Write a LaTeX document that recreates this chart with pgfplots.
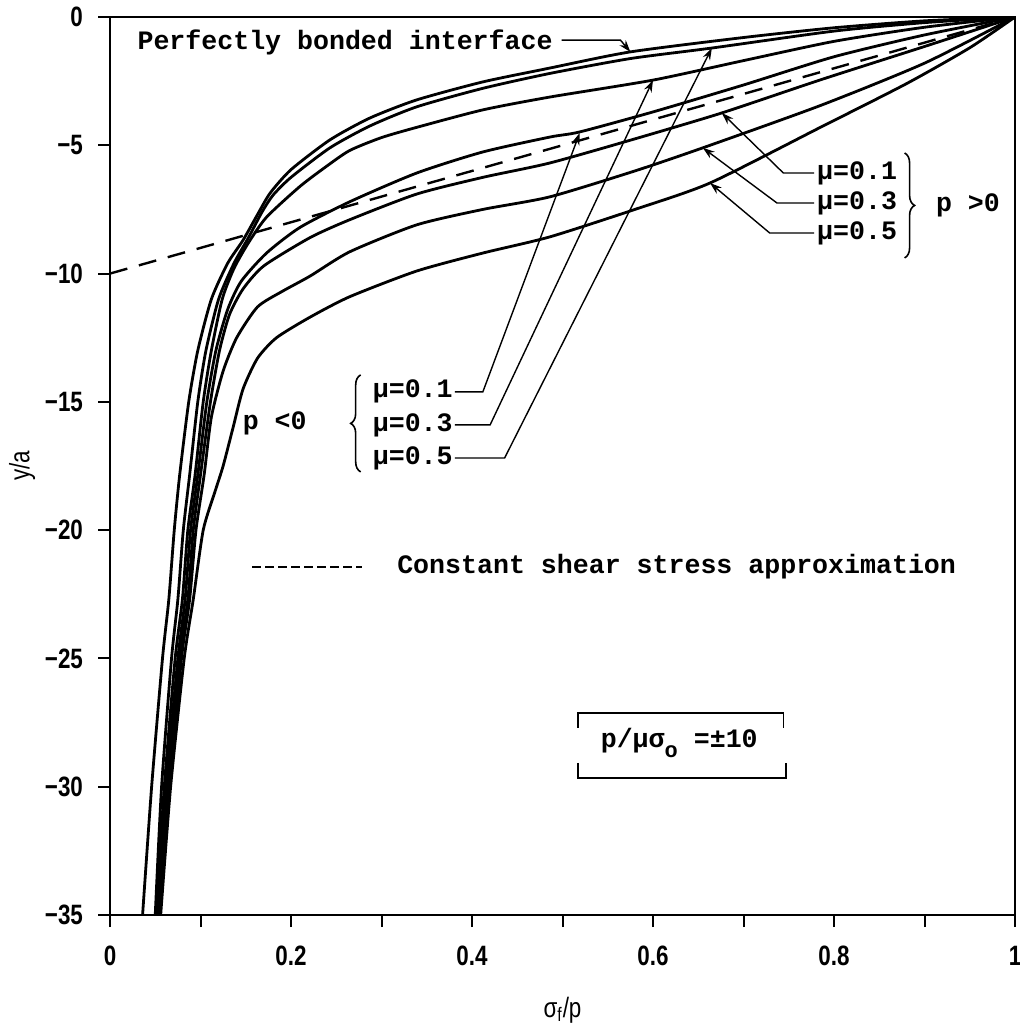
\documentclass[border=0pt]{standalone}
\usepackage{fontspec}
\setmainfont{Liberation Mono}
\newfontfamily\tickfont{Liberation Sans}[FakeStretch=0.8]
\usepackage{pgfplots}
\pgfplotsset{compat=1.18}
\usetikzlibrary{arrows.meta,decorations.pathreplacing}

\newcommand\annot{\fontsize{13.3pt}{16pt}\selectfont\bfseries}
\newcommand\tlab{\tickfont\bfseries\fontsize{14pt}{16pt}\selectfont}

% curves: sigma_f/p  y/a
\pgfplotstableread{
x y
0.036 -35
0.046 -30
0.058 -25
0.065 -22.7
0.071 -20
0.077 -17.85
0.087 -15
0.097 -13
0.112 -11
0.130 -9.6
0.147 -8.7
0.163 -7.7
0.177 -6.86
0.200 -5.95
0.243 -4.79
0.287 -3.94
0.339 -3.23
0.412 -2.53
0.486 -1.99
0.575 -1.36
0.700 -0.80
0.800 -0.42
0.900 -0.15
1.000 0
}\bonded
\pgfplotstableread{
x y
0.050 -35
0.057 -30
0.068 -25
0.075 -22.7
0.081 -20
0.088 -17.85
0.097 -15
0.106 -13
0.120 -11
0.137 -9.6
0.153 -8.6
0.168 -7.6
0.180 -6.95
0.200 -6.25
0.243 -5.10
0.287 -4.25
0.339 -3.50
0.412 -2.78
0.486 -2.20
0.575 -1.62
0.665 -1.21
0.800 -0.55
0.900 -0.22
1.000 0
}\negfive
\pgfplotstableread{
x y
0.051 -35
0.060 -30
0.072 -25
0.080 -22.7
0.086 -20
0.094 -17.85
0.103 -15
0.112 -13
0.124 -11
0.137 -9.8
0.153 -8.8
0.173 -7.8
0.210 -6.6
0.240 -5.8
0.265 -5.2
0.300 -4.7
0.339 -4.3
0.412 -3.62
0.486 -3.12
0.600 -2.46
0.700 -1.70
0.800 -0.95
0.900 -0.40
1.000 0
}\negthree
\pgfplotstableread{
x y
0.052 -35
0.062 -30
0.075 -25
0.083 -22.7
0.089 -20
0.097 -17.85
0.107 -15
0.117 -13
0.130 -11.4
0.145 -10.3
0.173 -9.2
0.210 -8.2
0.265 -7.2
0.339 -6.08
0.412 -5.26
0.486 -4.68
0.519 -4.48
0.600 -3.70
0.700 -2.65
0.800 -1.55
0.900 -0.70
1.000 0
}\negone
\pgfplotstableread{
x y
0.053 -35
0.064 -30
0.077 -25
0.086 -22.7
0.092 -20
0.100 -17.85
0.111 -15
0.121 -13
0.132 -11.6
0.147 -10.6
0.170 -9.7
0.221 -8.6
0.265 -7.9
0.339 -6.9
0.412 -6.25
0.486 -5.69
0.580 -4.75
0.676 -3.74
0.785 -2.45
0.900 -1.15
1.000 0
}\posone
\pgfplotstableread{
x y
0.055 -35
0.066 -30
0.079 -25
0.088 -22.7
0.095 -20
0.104 -17.85
0.112 -15.6
0.125 -13.8
0.140 -12.5
0.163 -11.3
0.190 -10.7
0.221 -10.1
0.265 -9.15
0.339 -8.1
0.412 -7.5
0.486 -7.01
0.580 -6.0
0.655 -5.1
0.785 -3.45
0.900 -1.8
1.000 0
}\posthree
\pgfplotstableread{
x y
0.056 -35
0.067 -30
0.082 -25
0.092 -22.7
0.103 -20
0.116 -18.5
0.125 -17.5
0.136 -16
0.147 -14.5
0.163 -13.3
0.184 -12.5
0.221 -11.7
0.265 -10.9
0.339 -9.9
0.412 -9.2
0.486 -8.57
0.580 -7.5
0.663 -6.47
0.785 -4.3
0.880 -2.6
0.950 -1.2
1.000 0
}\posfive

\begin{document}
\begin{tikzpicture}
\begin{axis}[
  width=452.5pt, height=449pt, scale only axis,
  xmin=0, xmax=1, ymin=-35, ymax=0,
  axis line style={line width=1.4pt},
  xtick={0,0.2,0.4,0.6,0.8,1},
  minor xtick={0.1,0.3,0.5,0.7,0.9},
  xticklabels={0,0.2,0.4,0.6,0.8,1},
  ytick={-35,-30,-25,-20,-15,-10,-5,0},
  yticklabels={−35,−30,−25,−20,−15,−10,−5,0},
  xtick pos=bottom, ytick pos=left,
  tick align=outside,
  major tick length=6pt, minor tick length=6pt,
  every tick/.style={black, line width=1pt},
  ticklabel style={font=\tlab},
  xticklabel shift=6pt, yticklabel shift=4pt,
  xlabel={σ\textsubscript{f}/p}, ylabel={y/a},
  label style={font=\tickfont\fontsize{14pt}{16pt}\selectfont},
  xlabel style={at={(axis description cs:0.5,-0.106)}, anchor=center},
  ylabel style={at={(axis description cs:-0.097,0.5)}, anchor=center},
  cycle list={black},
  no markers,
  every axis plot/.append style={line width=1.4pt, smooth, tension=0.4},
]
\addplot table {\bonded};
\addplot table {\negfive};
\addplot table {\negthree};
\addplot table {\negone};
\addplot table {\posone};
\addplot table {\posthree};
\addplot table {\posfive};
\addplot[black, dash pattern=on 9pt off 6pt, line width=1.2pt, sharp plot] coordinates {(0,-10) (1,0)};

% annotations
\node[anchor=west, inner sep=0, font=\annot] at (0.03,-1.0) {Perfectly bonded interface};
\draw[line width=0.7pt, -{Stealth[length=6pt,width=4pt]}] (0.499,-0.9) -- (0.564,-0.9) -- (0.575,-1.36);

\node[font=\annot] at (0.182,-15.82) {p <0};
\draw[line width=0.8pt, decorate, decoration={brace, amplitude=5pt}] (0.277,-17.73) -- (0.277,-13.95);
\node[anchor=west, inner sep=0, font=\annot] at (0.29,-14.61) {μ=0.1};
\node[anchor=west, inner sep=0, font=\annot] at (0.29,-15.90) {μ=0.3};
\node[anchor=west, inner sep=0, font=\annot] at (0.29,-17.19) {μ=0.5};
\draw[line width=0.7pt, -{Stealth[length=6pt,width=4pt]}] (0.381,-14.61) -- (0.412,-14.61) -- (0.519,-4.52);
\draw[line width=0.7pt, -{Stealth[length=6pt,width=4pt]}] (0.381,-15.90) -- (0.420,-15.90) -- (0.600,-2.46);
\draw[line width=0.7pt, -{Stealth[length=6pt,width=4pt]}] (0.381,-17.19) -- (0.436,-17.19) -- (0.665,-1.21);

\node[anchor=west, inner sep=0, font=\annot] at (0.781,-6.08) {μ=0.1};
\node[anchor=west, inner sep=0, font=\annot] at (0.781,-7.25) {μ=0.3};
\node[anchor=west, inner sep=0, font=\annot] at (0.781,-8.42) {μ=0.5};
\draw[line width=0.7pt, -{Stealth[length=6pt,width=4pt]}] (0.778,-6.08) -- (0.744,-6.08) -- (0.676,-3.74);
\draw[line width=0.7pt, -{Stealth[length=6pt,width=4pt]}] (0.778,-7.25) -- (0.737,-7.25) -- (0.655,-5.10);
\draw[line width=0.7pt, -{Stealth[length=6pt,width=4pt]}] (0.778,-8.42) -- (0.729,-8.42) -- (0.663,-6.47);
\draw[line width=0.8pt, decorate, decoration={brace, amplitude=5pt}] (0.878,-5.3) -- (0.878,-9.39);
\node[font=\annot] at (0.948,-7.33) {p >0};

\draw[line width=1.2pt, dash pattern=on 4.5pt off 2pt] (0.157,-21.43) -- (0.279,-21.43);
\node[anchor=west, inner sep=0, font=\annot] at (0.317,-21.43) {Constant shear stress approximation};

\draw[line width=0.8pt] (0.517,-27.7) -- (0.517,-27.12) -- (0.744,-27.12) -- (0.744,-27.7);
\draw[line width=0.8pt] (0.517,-29.07) -- (0.517,-29.66) -- (0.747,-29.66) -- (0.747,-29.07);
\node[font=\annot] at (0.629,-28.29) {p/μσ\raisebox{-5pt}{\fontsize{11pt}{11pt}\selectfont o} =±10};
\end{axis}
\pgfresetboundingbox
\useasboundingbox ([shift={(-55pt,-58.5pt)}]current axis.south west) rectangle ([shift={(2pt,8.5pt)}]current axis.north east);
\end{tikzpicture}
\end{document}
